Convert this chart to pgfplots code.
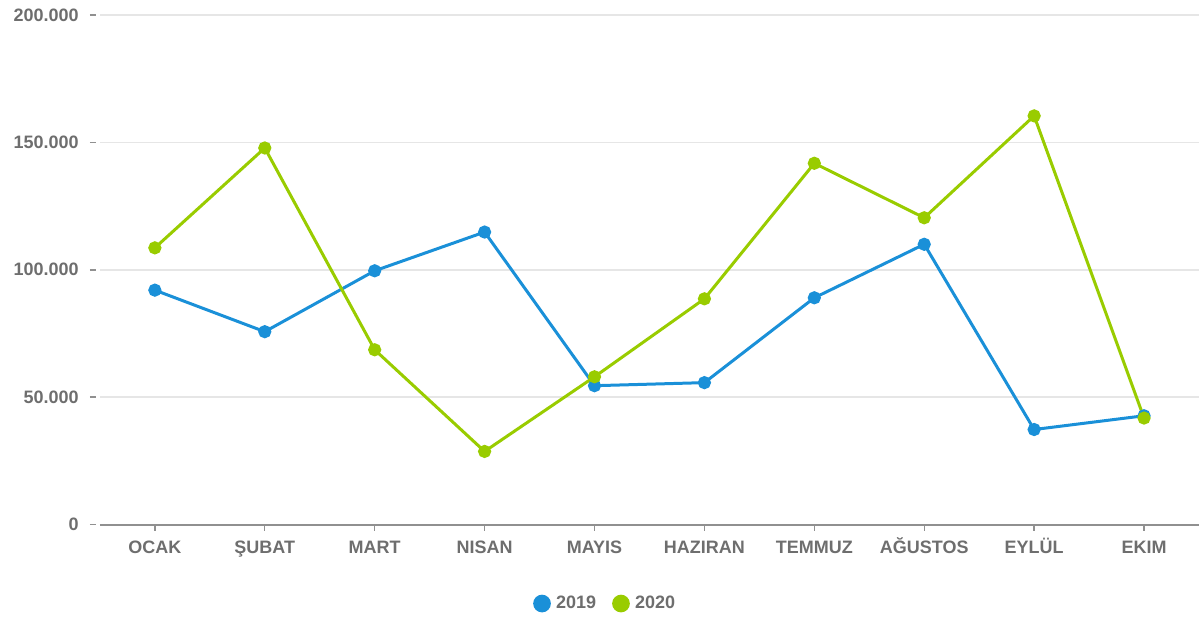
\documentclass[border=0pt]{standalone}
\usepackage{fontspec}
\setmainfont{Liberation Sans}
\usepackage{pgfplots}
\pgfplotsset{compat=1.18}
\definecolor{txtgray}{HTML}{6E6E6E}
\definecolor{axgray}{HTML}{909090}
\definecolor{gridgray}{HTML}{E6E6E6}
\definecolor{cblue}{HTML}{1A90D8}
\definecolor{cgreen}{HTML}{99CC00}
\begin{document}
\begin{tikzpicture}[x=1pt,y=1pt]
\begin{axis}[
  name=ax,
  scale only axis,
  width=825pt, height=382.5pt,
  xmin=-0.5, xmax=9.5,
  ymin=0, ymax=200000,
  scaled y ticks=false,
  xtick={0,...,9},
  xticklabels={OCAK,ŞUBAT,MART,NISAN,MAYIS,HAZIRAN,TEMMUZ,AĞUSTOS,EYLÜL,EKIM},
  ytick={0,50000,100000,150000,200000},
  yticklabels={0,50.000,100.000,150.000,200.000},
  axis x line*=bottom,
  axis y line*=left,
  y axis line style={draw=none},
  x axis line style={draw=axgray, line width=1.5pt, -},
  ymajorgrids,
  grid style={draw=gridgray, line width=1.2pt},
  xtick style={draw=axgray, line width=1pt},
  ytick style={draw=none},
  xtick align=outside,
  major tick length=4.5pt,
  ticklabel style={font=\bfseries\fontsize{13.5}{15}\selectfont, text=txtgray},
  xticklabel style={yshift=-4pt, text height=10pt, text depth=0pt, anchor=north},
  yticklabel style={xshift=-12.5pt},
  clip=false,
  legend style={at={(0.46,-0.155)}, anchor=center, draw=none, legend columns=2,
    font=\bfseries\fontsize{13.5}{15}\selectfont, text=txtgray,
    /tikz/every even column/.append style={column sep=10pt},
    /tikz/every odd column/.append style={column sep=2pt}},
  legend image code/.code={\fill[#1] (0.05cm,0cm) circle (5.5pt);},
]
\addplot[cblue, line width=2.25pt, mark=*, mark size=3.8pt, mark options={fill=cblue, draw=cblue}] coordinates {
 (0,92000) (1,75700) (2,99600) (3,114800) (4,54500) (5,55700) (6,89000) (7,110000) (8,37300) (9,42700)};
\addlegendentry{2019}
\addplot[cgreen, line width=2.25pt, mark=*, mark size=3.8pt, mark options={fill=cgreen, draw=cgreen}] coordinates {
 (0,108600) (1,147800) (2,68600) (3,28700) (4,58000) (5,88600) (6,141800) (7,120400) (8,160400) (9,41800)};
\addlegendentry{2020}
\end{axis}
\foreach \v in {0,1,2,3,4}{
  \draw[axgray, line width=1.2pt] ([xshift=-7.5pt,yshift=\v*95.625pt]ax.south west) -- ([xshift=-3pt,yshift=\v*95.625pt]ax.south west);
}
\path[use as bounding box] ([xshift=-75pt,yshift=-70.5pt]ax.south west) rectangle ([yshift=11.25pt]ax.north east);
\end{tikzpicture}
\end{document}
